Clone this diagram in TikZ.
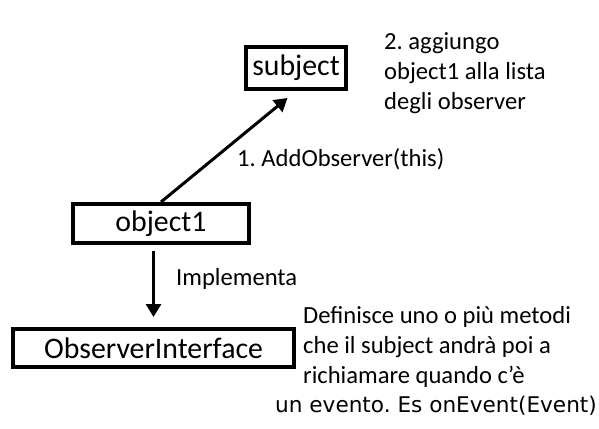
\documentclass[tikz,border=0pt]{standalone}
\usepackage{fontspec}
\setmainfont{Carlito}
\newfontfamily\dejavu{DejaVu Sans}
\usetikzlibrary{arrows.meta}
\frenchspacing

\begin{document}
\begin{tikzpicture}[x=1pt, y=-1pt,
	box/.style={draw, line width=4pt, inner sep=0pt, font=\fontsize{29.8}{34}\selectfont},
	note/.style={inner sep=0pt, anchor=base west, align=left, font=\fontsize{24.6}{30}\selectfont},
	arr/.style={line width=3pt, -{Triangle[length=13pt, width=15pt]}}]
	%%%%% START %%%%%
	
	\useasboundingbox (0, 0) rectangle (599, 428);
	
	\node[box, minimum width=100pt, minimum height=42pt] (subject) at (296, 68) {subject};
	\node[box, minimum width=176pt, minimum height=39pt] (object1) at (161, 223.5) {object1};
	\node[box, minimum width=281pt, minimum height=38pt] (observer) at (153.5, 348) {ObserverInterface};
	
	\draw[arr, shorten >=11pt] (object1.north) -- (subject.south);
	\draw[arr, shorten <=6pt, shorten >=10pt] (observer.north |- object1.south) -- (observer.north);
	
	% multi-line notes: base = baseline of last line
	\node[note] (addobs) at (237, 166) {1. AddObserver(this)};
	\node[note] (aggiungo) at (384, 109) {2. aggiungo\\object1 alla lista\\degli observer};
	\node[note] (implementa) at (176, 285) {Implementa};
	\node[note] (definisce) at (303, 412) {Definisce uno o più metodi\\che il subject andrà poi a\\richiamare quando c’è\\[-1pt]\hspace*{-28pt}{\dejavu\fontsize{21.6}{29}\selectfont un evento. Es onEvent(Event)}};
	
	%%%%% END %%%%%
\end{tikzpicture}
\end{document}
